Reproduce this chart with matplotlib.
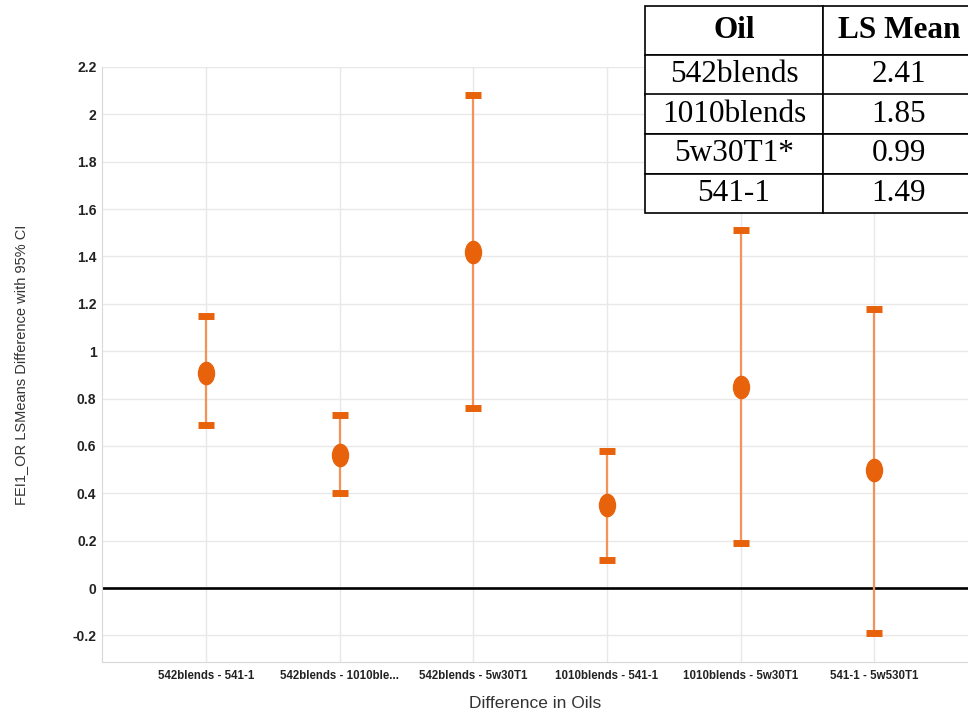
import matplotlib
matplotlib.use('Agg')
import matplotlib.pyplot as plt
from matplotlib.path import Path
from matplotlib.transforms import Affine2D

# pairwise differences of LS means with 95% CI
pairs = ['542blends - 541-1', '542blends - 1010ble...', '542blends - 5w30T1',
         '1010blends - 541-1', '1010blends - 5w30T1', '541-1 - 5w530T1']
diff = [0.91, 0.56, 1.42, 0.35, 0.85, 0.50]
upper = [1.15, 0.73, 2.08, 0.58, 1.51, 1.18]
lower = [0.69, 0.40, 0.76, 0.12, 0.19, -0.19]

# LS mean table
oils = ['542blends', '1010blends', '5w30T1*', '541-1']
ls_means = ['2.41', '1.85', '0.99', '1.49']

yticks = [-0.2, 0, 0.2, 0.4, 0.6, 0.8, 1, 1.2, 1.4, 1.6, 1.8, 2, 2.2]

narrow = ['Liberation Sans Narrow', 'Liberation Sans', 'DejaVu Sans']

fig = plt.figure(figsize=(9.68, 7.14), dpi=100)
ax = fig.add_axes([102 / 968, 52 / 714, 866 / 968, 595 / 714])

xs = list(range(len(pairs)))
err_lo = [d - l for d, l in zip(diff, lower)]
err_hi = [u - d for d, u in zip(diff, upper)]

ellipse = Path.unit_circle().transformed(Affine2D().scale(0.72, 1.0))

ax.axhline(0, color='black', lw=1.9, zorder=2)
ax.errorbar(xs, diff, yerr=[err_lo, err_hi], fmt='none', ecolor='#F29457',
            elinewidth=1.6, capsize=0, zorder=3)
# caps drawn as thick bars
ax.plot(xs, upper, ls='none', marker='_', ms=12, mew=5, color='#E8620C', zorder=4)
ax.plot(xs, lower, ls='none', marker='_', ms=12, mew=5, color='#E8620C', zorder=4)
ax.plot(xs, diff, ls='none', marker=ellipse, ms=16, color='#E8620C', zorder=5)

ax.set_xlim(-0.778, 5.70)
ax.set_ylim(-0.312, 2.2)
ax.set_yticks(yticks)
ax.set_yticklabels(['{:g}'.format(t) for t in yticks], family=narrow,
                   fontweight='bold', fontsize=10, color='#222222')
ax.set_xticks(xs)
ax.set_xticklabels(pairs, family=narrow, fontsize=8.3, fontweight='bold',
                   color='#222222')
ax.tick_params(length=0, pad=6)
ax.tick_params(axis='y', pad=4)
ax.grid(True, color='#E8E8E8', lw=1)
ax.set_axisbelow(True)
for s in ['top', 'right']:
    ax.spines[s].set_visible(False)
for s in ['left', 'bottom']:
    ax.spines[s].set_color('#D8D8D8')

ax.set_xlabel('Difference in Oils', family=narrow, fontsize=12.5,
              color='#333333', labelpad=10)
ax.set_ylabel('FEI1_OR LSMeans Difference with 95% CI', family=['Liberation Sans', 'DejaVu Sans'],
              fontsize=10.5, color='#333333', labelpad=32)

# table overlay in the top right corner
tax = fig.add_axes([645 / 968, 1 - 213 / 714, 330 / 968, 207 / 714])
tax.axis('off')
cells = [[o, m] for o, m in zip(oils, ls_means)]
tbl = tax.table(cellText=cells, colLabels=['Oil', 'LS Mean'],
                colWidths=[178 / 330, 152 / 330], cellLoc='center',
                bbox=[0, 0, 1, 1])
tbl.auto_set_font_size(False)
for (r, c), cell in tbl.get_celld().items():
    cell.set_edgecolor('black')
    cell.set_linewidth(1.2)
    cell.set_facecolor('white')
    cell.get_text().set_fontfamily(['Liberation Serif', 'DejaVu Serif'])
    cell.get_text().set_fontsize(22.5)
    if r == 0:
        cell.get_text().set_fontweight('bold')
        cell.set_height(49)
    else:
        cell.set_height(39.5)

fig.savefig('out.png', dpi=100)
